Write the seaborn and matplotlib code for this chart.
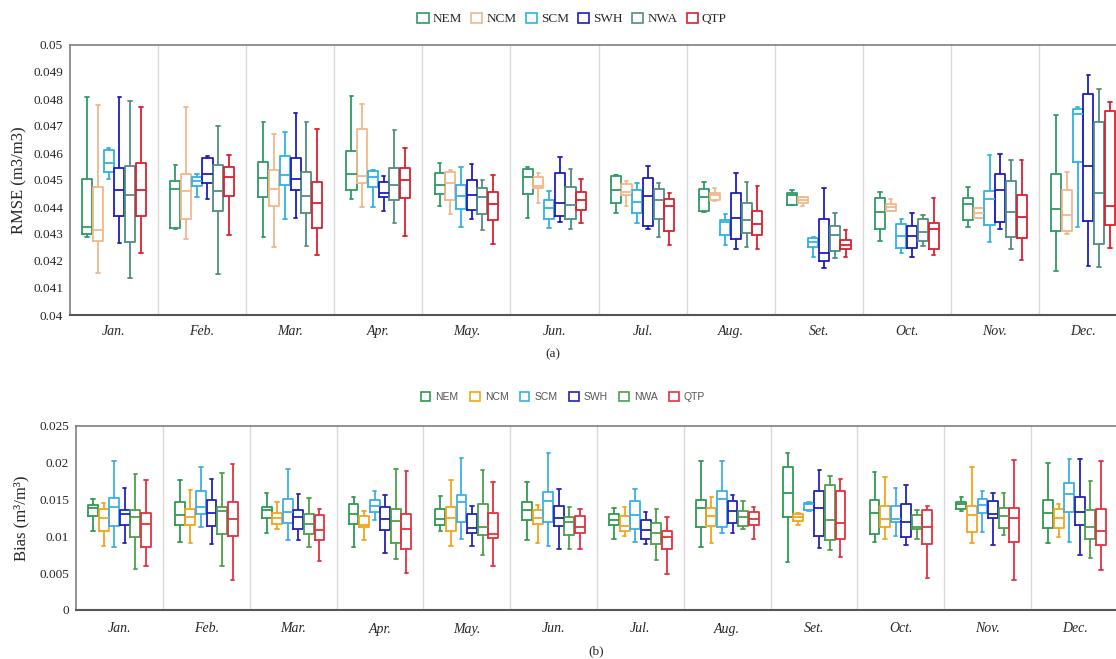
import numpy as np
import pandas as pd
import matplotlib
matplotlib.use("Agg")
import matplotlib.pyplot as plt
from matplotlib.patches import Patch
import seaborn as sns

months = ["Jan.", "Feb.", "Mar.", "Apr.", "May.", "Jun.",
          "Jul.", "Aug.", "Set.", "Oct.", "Nov.", "Dec."]
regions = ["NEM", "NCM", "SCM", "SWH", "NWA", "QTP"]

# per month: (min, q1, median, q3, max)
rmse_nem = [(0.04288, 0.0430, 0.04327, 0.04502, 0.04806), (0.04318, 0.04323, 0.04468, 0.04495, 0.04556),
            (0.0429, 0.04436, 0.04507, 0.04565, 0.04715), (0.04428, 0.04462, 0.04522, 0.04606, 0.04811),
            (0.04405, 0.04448, 0.04483, 0.04525, 0.04562), (0.04358, 0.04448, 0.0451, 0.0454, 0.0455),
            (0.04377, 0.04414, 0.04462, 0.04516, 0.04517), (0.0438, 0.04384, 0.04438, 0.04468, 0.04494),
            (0.04409, 0.04409, 0.04444, 0.04451, 0.04464), (0.04274, 0.04317, 0.04381, 0.04432, 0.04454),
            (0.04327, 0.04351, 0.04412, 0.04432, 0.04473), (0.04163, 0.0431, 0.04391, 0.04522, 0.04741)]
rmse_ncm = [(0.04154, 0.04274, 0.04315, 0.04475, 0.04778), (0.0428, 0.04354, 0.04458, 0.04521, 0.04772),
            (0.0425, 0.04405, 0.04465, 0.04536, 0.04672), (0.04401, 0.04488, 0.04515, 0.04688, 0.04783),
            (0.04374, 0.04426, 0.04489, 0.04531, 0.04536), (0.04414, 0.04469, 0.04478, 0.0451, 0.04525),
            (0.04405, 0.04445, 0.04455, 0.04484, 0.04497), (0.04421, 0.04426, 0.04443, 0.04453, 0.04472),
            (0.04405, 0.04415, 0.04426, 0.04436, 0.04438), (0.04385, 0.04385, 0.04399, 0.0441, 0.0443),
            (0.0436, 0.0436, 0.04379, 0.04395, 0.04395), (0.043, 0.04312, 0.04369, 0.04462, 0.0453)]
rmse_scm = [(0.04504, 0.04528, 0.04562, 0.04611, 0.04618), (0.04437, 0.04478, 0.04498, 0.04512, 0.04521),
            (0.04354, 0.04483, 0.04519, 0.0459, 0.04677), (0.04401, 0.04475, 0.04512, 0.04532, 0.04538),
            (0.04325, 0.04391, 0.04441, 0.0448, 0.04547), (0.04323, 0.04354, 0.04395, 0.04425, 0.0446),
            (0.0434, 0.04379, 0.04419, 0.04464, 0.0449), (0.0426, 0.04296, 0.04344, 0.04352, 0.04375),
            (0.04214, 0.04251, 0.04269, 0.04285, 0.04288), (0.04228, 0.04247, 0.04291, 0.04338, 0.04357),
            (0.0427, 0.04333, 0.04428, 0.04458, 0.04591), (0.04327, 0.04565, 0.04746, 0.04763, 0.04772)]
rmse_swh = [(0.04268, 0.04365, 0.04462, 0.04546, 0.04806), (0.04431, 0.04489, 0.04522, 0.0458, 0.0459),
            (0.0436, 0.04462, 0.04505, 0.04583, 0.04748), (0.04384, 0.04438, 0.04452, 0.04494, 0.04514),
            (0.04354, 0.04388, 0.04446, 0.04501, 0.0456), (0.04346, 0.04368, 0.04414, 0.04526, 0.04586),
            (0.04317, 0.04331, 0.04442, 0.04506, 0.04553), (0.04244, 0.0428, 0.04358, 0.04452, 0.04525),
            (0.04175, 0.04199, 0.04228, 0.04354, 0.04469), (0.04214, 0.04248, 0.04291, 0.04328, 0.04378),
            (0.04317, 0.04343, 0.04462, 0.04522, 0.04596), (0.04183, 0.04347, 0.04553, 0.04819, 0.0489)]
rmse_nwa = [(0.04136, 0.0427, 0.04444, 0.04553, 0.04791), (0.04152, 0.04384, 0.04458, 0.04556, 0.047),
            (0.04257, 0.04378, 0.0444, 0.04528, 0.04715), (0.04341, 0.04425, 0.04483, 0.04546, 0.04685),
            (0.04314, 0.04374, 0.04437, 0.04469, 0.04499), (0.0432, 0.04357, 0.04409, 0.04475, 0.0454),
            (0.04288, 0.04357, 0.04425, 0.04468, 0.0449), (0.04253, 0.04304, 0.04351, 0.04415, 0.04491),
            (0.0421, 0.04237, 0.04298, 0.04331, 0.04378), (0.04257, 0.04274, 0.04307, 0.04354, 0.04369),
            (0.04243, 0.0429, 0.04381, 0.04495, 0.04574), (0.04179, 0.04264, 0.04452, 0.04714, 0.04836)]
rmse_qtp = [(0.04231, 0.04368, 0.04462, 0.04562, 0.04769), (0.04298, 0.04442, 0.04512, 0.0455, 0.04593),
            (0.04221, 0.04321, 0.04415, 0.04494, 0.04688), (0.04294, 0.04432, 0.04499, 0.04546, 0.04617),
            (0.04264, 0.04351, 0.04411, 0.04457, 0.04519), (0.0434, 0.0439, 0.04425, 0.04454, 0.04502),
            (0.04259, 0.04312, 0.04402, 0.04431, 0.04451), (0.04244, 0.04296, 0.04336, 0.04384, 0.04477),
            (0.04214, 0.04243, 0.0426, 0.04277, 0.04314), (0.04223, 0.04243, 0.04319, 0.04341, 0.04432),
            (0.04202, 0.04284, 0.04364, 0.04443, 0.04574), (0.04247, 0.04335, 0.04405, 0.04754, 0.04789)]

bias_nem = [(0.01069, 0.01277, 0.01381, 0.01431, 0.01508), (0.00928, 0.0115, 0.01295, 0.01472, 0.01766),
            (0.01051, 0.0125, 0.01359, 0.01404, 0.01594), (0.0086, 0.01168, 0.01309, 0.01436, 0.01531),
            (0.01069, 0.0115, 0.01232, 0.01377, 0.01549), (0.00951, 0.01223, 0.01359, 0.01472, 0.01735),
            (0.0096, 0.0115, 0.01223, 0.013, 0.01386), (0.0086, 0.01128, 0.0139, 0.01495, 0.02024),
            (0.00648, 0.01264, 0.01594, 0.01943, 0.02133), (0.00924, 0.01033, 0.01318, 0.0149, 0.01875),
            (0.01345, 0.01372, 0.01436, 0.01467, 0.01531), (0.00906, 0.01119, 0.01313, 0.0149, 0.01997)]
bias_ncm = [(0.0087, 0.01069, 0.0125, 0.01372, 0.01458), (0.00915, 0.0115, 0.01259, 0.01368, 0.0163),
            (0.01096, 0.01173, 0.0125, 0.01313, 0.01472), (0.00951, 0.01128, 0.01159, 0.01277, 0.0135),
            (0.0087, 0.01069, 0.0125, 0.01395, 0.01766), (0.00906, 0.01173, 0.0125, 0.01359, 0.01422),
            (0.0101, 0.01069, 0.01146, 0.01282, 0.01404), (0.0091, 0.01141, 0.01273, 0.01386, 0.01531),
            (0.01159, 0.01205, 0.01268, 0.01309, 0.01318), (0.0096, 0.01123, 0.01241, 0.01418, 0.01807),
            (0.0091, 0.01064, 0.01295, 0.01418, 0.01943), (0.00996, 0.01119, 0.0125, 0.01377, 0.01445)]
bias_scm = [(0.00851, 0.01137, 0.01404, 0.01522, 0.0202), (0.01123, 0.01309, 0.01395, 0.01617, 0.01938),
            (0.00951, 0.01187, 0.01336, 0.01504, 0.01911), (0.01227, 0.01327, 0.01413, 0.0149, 0.01621),
            (0.00965, 0.01191, 0.01472, 0.01563, 0.0207), (0.0087, 0.01191, 0.01481, 0.01599, 0.02129),
            (0.00919, 0.01101, 0.01295, 0.01486, 0.01649), (0.01046, 0.01128, 0.01508, 0.01612, 0.0202),
            (0.0135, 0.01363, 0.0144, 0.01458, 0.01463), (0.01005, 0.01191, 0.01232, 0.01413, 0.01653),
            (0.0106, 0.01322, 0.01422, 0.01504, 0.01612), (0.00924, 0.01332, 0.01572, 0.01721, 0.02052)]
bias_swh = [(0.00906, 0.0115, 0.013, 0.01359, 0.01658), (0.00892, 0.01137, 0.01313, 0.0149, 0.01784),
            (0.00951, 0.01105, 0.01268, 0.01359, 0.01576), (0.00774, 0.01087, 0.01232, 0.01395, 0.01558),
            (0.0087, 0.01051, 0.01114, 0.01304, 0.01418), (0.00824, 0.01141, 0.01245, 0.01418, 0.0164),
            (0.00897, 0.00969, 0.01082, 0.01227, 0.01332), (0.01046, 0.01182, 0.01341, 0.01476, 0.01562),
            (0.00847, 0.0101, 0.01386, 0.01612, 0.01902), (0.00888, 0.00992, 0.01191, 0.01445, 0.01698),
            (0.00879, 0.0125, 0.01309, 0.01481, 0.01585), (0.00752, 0.0115, 0.01332, 0.01531, 0.02047)]
bias_nwa = [(0.00562, 0.00996, 0.01264, 0.01359, 0.01848), (0.00602, 0.01033, 0.0135, 0.01404, 0.01857),
            (0.0086, 0.01033, 0.01164, 0.01304, 0.01522), (0.00688, 0.00915, 0.01214, 0.01368, 0.01911),
            (0.00752, 0.01015, 0.01123, 0.01445, 0.01898), (0.00833, 0.01015, 0.012, 0.01259, 0.01404),
            (0.00679, 0.00897, 0.01042, 0.01187, 0.01377), (0.01101, 0.01141, 0.01268, 0.01341, 0.01476),
            (0.00815, 0.00947, 0.01223, 0.01698, 0.01825), (0.0096, 0.01096, 0.01132, 0.01286, 0.01359),
            (0.01019, 0.0111, 0.01277, 0.01381, 0.01594), (0.00702, 0.00969, 0.01123, 0.01363, 0.01748)]
bias_qtp = [(0.00602, 0.0086, 0.01173, 0.01313, 0.01766), (0.00403, 0.0101, 0.01232, 0.01472, 0.01988),
            (0.00666, 0.00951, 0.01091, 0.01291, 0.01377), (0.00507, 0.00824, 0.01105, 0.01309, 0.01893),
            (0.00598, 0.00983, 0.01033, 0.01313, 0.01735), (0.00824, 0.01046, 0.01128, 0.01277, 0.01377),
            (0.00489, 0.00824, 0.00987, 0.01078, 0.01268), (0.0096, 0.01155, 0.01236, 0.01336, 0.01404),
            (0.00716, 0.00969, 0.01187, 0.01612, 0.01775), (0.00435, 0.00901, 0.01128, 0.01363, 0.01418),
            (0.00403, 0.00919, 0.01255, 0.01386, 0.02033), (0.00539, 0.00883, 0.01073, 0.01377, 0.02029)]

rmse_ticks = [0.04, 0.041, 0.042, 0.043, 0.044, 0.045, 0.046, 0.047, 0.048, 0.049, 0.05]
rmse_ticklabels = ["0.04", "0.041", "0.042", "0.043", "0.044", "0.045",
                   "0.046", "0.047", "0.048", "0.049", "0.05"]
bias_ticks = [0, 0.005, 0.01, 0.015, 0.02, 0.025]
bias_ticklabels = ["0", "0.005", "0.01", "0.015", "0.02", "0.025"]

colors_a = ["#2e9b63", "#f0b88a", "#2fb2e0", "#1c1cc0", "#4f8f80", "#dd1f2e"]
colors_b = ["#2f9a50", "#f4a41c", "#3ab0e8", "#2323b8", "#4ca04a", "#e53040"]


def to_long(series):
    rows = []
    for region, stats in zip(regions, series):
        for month, five in zip(months, stats):
            for v in five:
                rows.append((month, region, v))
    return pd.DataFrame(rows, columns=["month", "region", "value"])


df_rmse = to_long([rmse_nem, rmse_ncm, rmse_scm, rmse_swh, rmse_nwa, rmse_qtp])
df_bias = to_long([bias_nem, bias_ncm, bias_scm, bias_swh, bias_nwa, bias_qtp])

sns.set_style("white")
plt.rcParams["font.family"] = ["Liberation Serif", "DejaVu Serif"]

W, H = 1116, 659
fig = plt.figure(figsize=(W / 100, H / 100), dpi=100)
# axes boxes from pixel positions
ax_a = fig.add_axes([70 / W, 1 - 315 / H, (1127 - 70) / W, 270 / H])
ax_b = fig.add_axes([76 / W, 1 - 610 / H, (1118 - 76) / W, 184 / H])


def draw(ax, df, colors, ylim, ticks, ticklabels, ylabel, xpad, label_x):
    sns.boxplot(data=df, x="month", y="value", hue="region", order=months,
                hue_order=regions, palette=colors, fill=False, whis=(0, 100),
                width=0.73, gap=0.06, linewidth=1.3, showfliers=False,
                legend=False, ax=ax)
    # narrower whisker caps
    for line in ax.lines:
        x = np.asarray(line.get_xdata(), dtype=float)
        y = np.asarray(line.get_ydata(), dtype=float)
        if len(x) == 2 and y[0] == y[1] and abs(x[1] - x[0]) < 0.08:
            c = x.mean()
            line.set_xdata([c - 0.02, c + 0.02])
    for k in range(1, 12):
        ax.axvline(k - 0.5, color="#d9d9d9", lw=1, zorder=0)
    ax.set_xlim(-0.5, 11.5)
    ax.set_ylim(*ylim)
    ax.set_yticks(ticks)
    ax.set_yticklabels(ticklabels)
    ax.set_xticks(range(12))
    ax.set_xticklabels(months, fontstyle="italic", fontsize=10)
    ax.set_xticks(np.arange(0.5, 11.5, 1), minor=True)
    ax.tick_params(axis="y", length=0, pad=5, labelsize=9.5)
    ax.tick_params(axis="x", which="major", length=0, pad=xpad)
    ax.tick_params(axis="x", which="minor", length=3, color="#999999", direction="out")
    ax.set_xlabel("")
    ax.set_ylabel(ylabel, fontsize=12)
    ax.yaxis.set_label_coords(label_x, 0.5)
    for loc in ["top", "left", "right"]:
        ax.spines[loc].set_color("#808080")
        ax.spines[loc].set_linewidth(1.2)
    ax.spines["bottom"].set_color("#555555")
    ax.spines["bottom"].set_linewidth(1.5)


draw(ax_a, df_rmse, colors_a, (0.04, 0.05), rmse_ticks, rmse_ticklabels,
     "RMSE (m3/m3)", 7, -0.040)
draw(ax_b, df_bias, colors_b, (0, 0.025), bias_ticks, bias_ticklabels,
     "Bias (m³/m³)", 9, -0.045)

handles_a = [Patch(facecolor="white", edgecolor=c, lw=1.2) for c in colors_a]
fig.legend(handles_a, regions, loc="center", bbox_to_anchor=(572 / W, 1 - 19 / H),
           ncol=6, frameon=False, fontsize=9.5, handlelength=0.85, handleheight=0.85,
           handletextpad=0.3, columnspacing=0.7)
handles_b = [Patch(facecolor="white", edgecolor=c, lw=1.2) for c in colors_b]
leg_b = fig.legend(handles_b, regions, loc="center", bbox_to_anchor=(563 / W, 1 - 397 / H),
                   ncol=6, frameon=False, handlelength=0.9, handleheight=0.9,
                   handletextpad=0.5, columnspacing=1.1,
                   prop={"family": ["Liberation Sans", "DejaVu Sans"], "size": 7.5})
for t in leg_b.get_texts():
    t.set_color("#555555")

fig.text(553 / W, 1 - 354 / H, "(a)", ha="center", va="center", fontsize=9.5)
fig.text(596 / W, 1 - 651 / H, "(b)", ha="center", va="center", fontsize=9.5)

fig.savefig("out.png", dpi=100)
